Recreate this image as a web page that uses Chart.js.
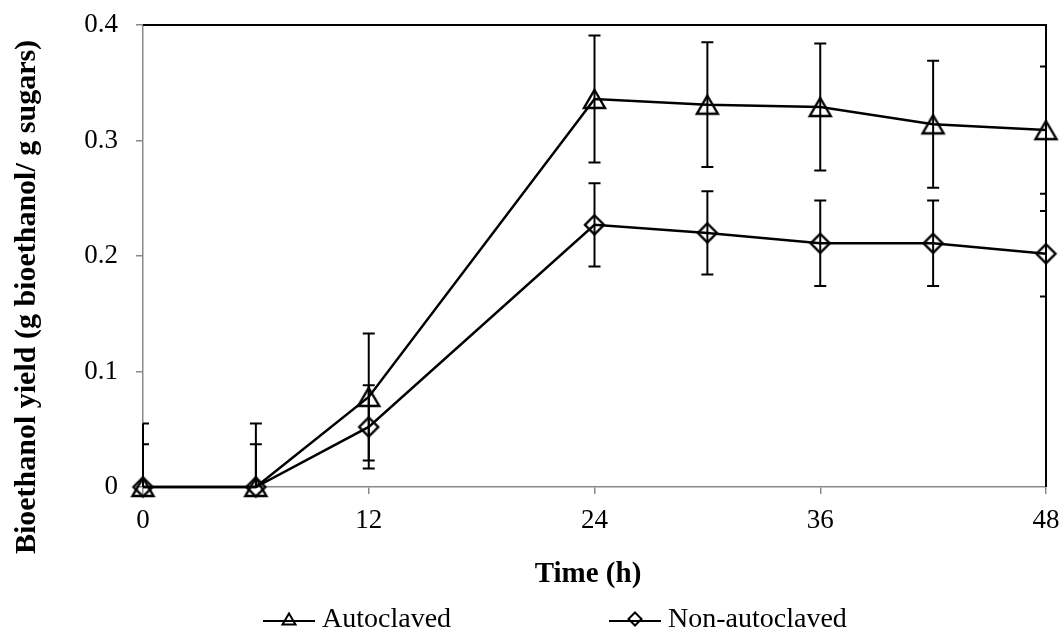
<!DOCTYPE html>
<html><head><meta charset="utf-8">
<script src="https://cdn.jsdelivr.net/npm/chart.js@4.4.1/dist/chart.umd.min.js"></script>
<style>html,body{margin:0;padding:0;background:#fff}#wrap{width:1064px;height:634px;position:relative}</style>
</head><body><div id="wrap"><canvas id="c" width="1064" height="634"></canvas></div>
<script>
const times = [0, 6, 12, 24, 30, 36, 42, 48];
const autoclaved = [0, 0, 0.078, 0.336, 0.331, 0.329, 0.314, 0.309];
const autoclavedErr = [0.055, 0.055, 0.055, 0.055, 0.054, 0.055, 0.055, 0.055];
const nonAutoclaved = [0, 0, 0.052, 0.227, 0.220, 0.211, 0.211, 0.202];
const nonAutoclavedErr = [0.037, 0.037, 0.036, 0.036, 0.036, 0.037, 0.037, 0.037];
const seriesNames = ['Autoclaved', 'Non-autoclaved'];
const xTicks = [0, 12, 24, 36, 48];
const yTicks = [0, 0.1, 0.2, 0.3, 0.4];
const xTitle = 'Time (h)';
const yTitle = 'Bioethanol yield (g bioethanol/ g sugars)';

const FONT = '"Liberation Serif", "Times New Roman", serif';
const AXIS_GRAY = '#898989';

function makeTriangle(w, h, lw) {
  const c = document.createElement('canvas');
  c.width = Math.ceil(w + lw * 2) + 1; c.height = Math.ceil(h + lw * 2) + 1;
  const g = c.getContext('2d');
  const cx = c.width / 2, cy = c.height / 2;
  g.beginPath();
  g.moveTo(cx, cy - h / 2); g.lineTo(cx + w / 2, cy + h / 2); g.lineTo(cx - w / 2, cy + h / 2);
  g.closePath();
  g.lineWidth = lw; g.strokeStyle = '#000'; g.lineJoin = 'miter'; g.stroke();
  return c;
}
function makeDiamond(w, h, lw) {
  const c = document.createElement('canvas');
  c.width = Math.ceil(w + lw * 2) + 1; c.height = Math.ceil(h + lw * 2) + 1;
  const g = c.getContext('2d');
  const cx = c.width / 2, cy = c.height / 2;
  g.beginPath();
  g.moveTo(cx, cy - h / 2); g.lineTo(cx + w / 2, cy); g.lineTo(cx, cy + h / 2); g.lineTo(cx - w / 2, cy);
  g.closePath();
  g.lineWidth = lw; g.strokeStyle = '#000'; g.lineJoin = 'miter'; g.stroke();
  return c;
}
const triMarker = makeTriangle(21, 18, 2.4);
const diaMarker = makeDiamond(19, 19, 2.4);
const triLegend = makeTriangle(13, 11, 2);
const diaLegend = makeDiamond(13, 13, 2);

const errorBarPlugin = {
  id: 'errorBars',
  beforeDatasetsDraw(chart) {
    const ctx = chart.ctx, a = chart.chartArea;
    const xs = chart.scales.x, ys = chart.scales.y;
    ctx.save();
    ctx.beginPath();
    ctx.rect(a.left - 1.5, a.top - 1, a.right - a.left + 3, a.bottom - a.top + 1);
    ctx.clip();
    ctx.strokeStyle = '#000'; ctx.lineWidth = 2;
    chart.data.datasets.forEach(ds => {
      const errs = ds.errors, vals = ds.values;
      vals.forEach((v, i) => {
        const x = xs.getPixelForValue(times[i]);
        const yt = ys.getPixelForValue(v + errs[i]);
        const yb = ys.getPixelForValue(v - errs[i]);
        ctx.beginPath();
        ctx.moveTo(x, yt); ctx.lineTo(x, yb);
        ctx.moveTo(Math.max(x - 6, a.left), yt); ctx.lineTo(Math.min(x + 6, a.right), yt);
        ctx.moveTo(Math.max(x - 6, a.left), yb); ctx.lineTo(Math.min(x + 6, a.right), yb);
        ctx.stroke();
      });
    });
    ctx.restore();
    ctx.save();
    ctx.strokeStyle = '#000'; ctx.lineWidth = 2;
    ctx.beginPath();
    ctx.moveTo(a.left, a.top); ctx.lineTo(a.right, a.top); ctx.lineTo(a.right, a.bottom);
    ctx.stroke();
    ctx.restore();
  },
  afterDraw(chart) {
    const ctx = chart.ctx;
    ctx.save();
    ctx.fillStyle = '#000';
    ctx.font = 'bold 29px ' + FONT;
    ctx.textAlign = 'center'; ctx.textBaseline = 'middle';
    ctx.fillText(xTitle, 588, 575);
    ctx.save();
    ctx.translate(27, 297);
    ctx.rotate(-Math.PI / 2);
    ctx.font = 'bold 30px ' + FONT;
    ctx.fillText(yTitle, 0, 0);
    ctx.restore();
    ctx.font = '28px ' + FONT;
    ctx.textAlign = 'left'; ctx.textBaseline = 'middle';
    const items = [
      {x: 263, marker: triLegend, text: seriesNames[0]},
      {x: 609, marker: diaLegend, text: seriesNames[1]}
    ];
    const ly = 621;
    items.forEach(it => {
      ctx.strokeStyle = '#000'; ctx.lineWidth = 2;
      ctx.beginPath(); ctx.moveTo(it.x, ly); ctx.lineTo(it.x + 52, ly); ctx.stroke();
      ctx.drawImage(it.marker, Math.round(it.x + 26 - it.marker.width / 2), Math.round(ly - it.marker.height / 2 - 2));
      ctx.fillText(it.text, it.x + 59, ly - 1);
    });
    ctx.restore();
  }
};

new Chart(document.getElementById('c'), {
  type: 'line',
  data: {
    datasets: [
      {
        label: seriesNames[0],
        data: autoclaved.map((v, i) => ({x: times[i], y: v})),
        values: autoclaved,
        errors: autoclavedErr,
        borderColor: '#000', borderWidth: 2.5, tension: 0,
        pointStyle: triMarker, pointRadius: 10, pointHoverRadius: 10,
        backgroundColor: 'rgba(0,0,0,0)', clip: false
      },
      {
        label: seriesNames[1],
        data: nonAutoclaved.map((v, i) => ({x: times[i], y: v})),
        values: nonAutoclaved,
        errors: nonAutoclavedErr,
        borderColor: '#000', borderWidth: 2.5, tension: 0,
        pointStyle: diaMarker, pointRadius: 10, pointHoverRadius: 10,
        backgroundColor: 'rgba(0,0,0,0)', clip: false
      }
    ]
  },
  options: {
    responsive: false, animation: false, devicePixelRatio: 1,
    layout: {padding: {left: 0, top: 25, right: 18, bottom: 0}},
    plugins: {legend: {display: false}, tooltip: {enabled: false}},
    scales: {
      x: {
        type: 'linear', min: 0, max: 48,
        afterBuildTicks: s => { s.ticks = xTicks.map(v => ({value: v})); },
        afterFit: s => { s.height = 147; s.paddingLeft = 0; s.paddingRight = 0; },
        grid: {drawOnChartArea: false, drawTicks: true, tickLength: 7, color: AXIS_GRAY, lineWidth: 1.5},
        border: {display: true, color: AXIS_GRAY, width: 1.5},
        ticks: {color: '#000', font: {family: FONT, size: 27}, padding: 11, maxRotation: 0}
      },
      y: {
        min: 0, max: 0.4,
        afterBuildTicks: s => { s.ticks = yTicks.map(v => ({value: v})); },
        afterFit: s => { s.width = 143; s.paddingTop = 0; s.paddingBottom = 0; },
        grid: {drawOnChartArea: false, drawTicks: true, tickLength: 7, color: AXIS_GRAY, lineWidth: 1.5},
        border: {display: true, color: AXIS_GRAY, width: 1.5},
        ticks: {color: '#000', font: {family: FONT, size: 27}, padding: 18,
          callback: v => (v === 0 ? '0' : v.toFixed(1))}
      }
    }
  },
  plugins: [errorBarPlugin]
});
</script>
</body></html>
